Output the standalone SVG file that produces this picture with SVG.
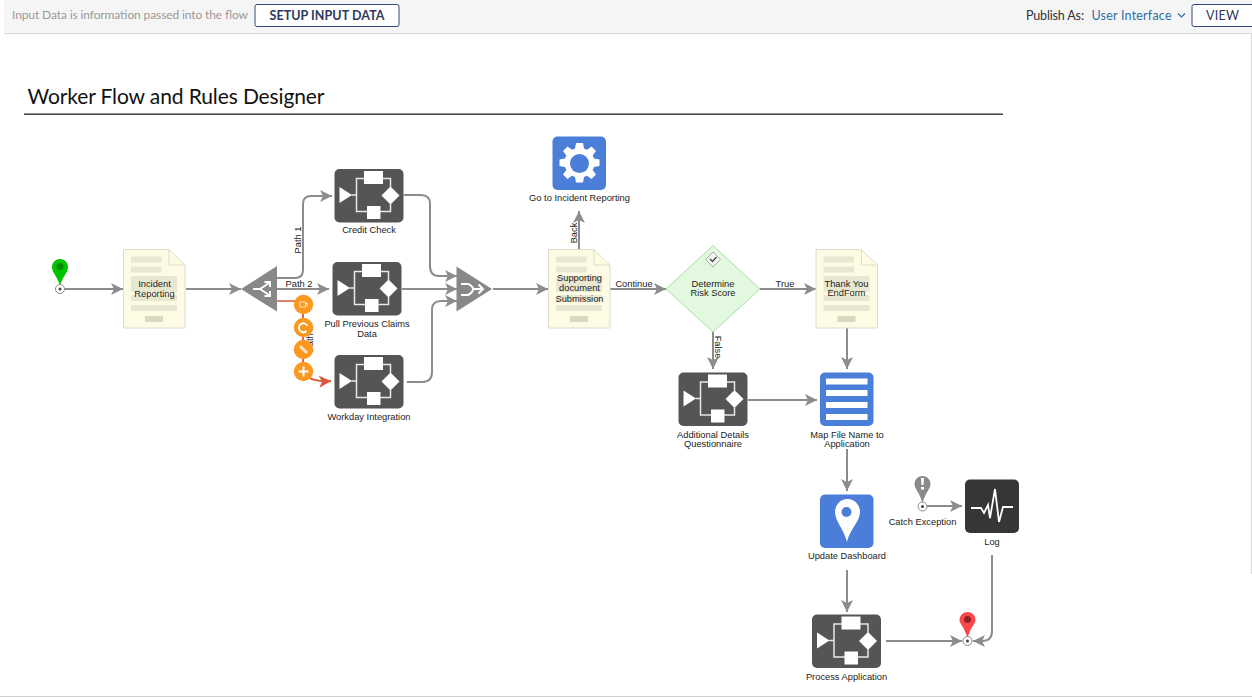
<svg xmlns="http://www.w3.org/2000/svg" width="1252" height="697" viewBox="0 0 1252 697">
<style>
.l{font-family:"Liberation Sans",Arial,sans-serif;font-size:9.300px;fill:#1c1c1c;text-anchor:middle}
.h{font-family:"Lato","Open Sans",sans-serif}
.c{fill:none;stroke:#8c8c8c;stroke-width:2;marker-end:url(#a)}
.w{fill:#fff}
.wl{fill:none;stroke:#e8e8e8;stroke-width:1.500}
.dl{fill:#e8e7d2}
.or{fill:#fb981f}
</style>
<defs>
<marker id="a" markerUnits="userSpaceOnUse" markerWidth="16" markerHeight="16" refX="13" refY="8" orient="auto"><path d="M1 2L13 8L1 14L4 8Z" fill="#8c8c8c"/></marker>
<marker id="r" markerUnits="userSpaceOnUse" markerWidth="16" markerHeight="16" refX="13" refY="8" orient="auto"><path d="M1 2L13 8L1 14L4 8Z" fill="#d9583b"/></marker>
<symbol id="step" width="70" height="54" overflow="visible">
<rect x="0" y="0" width="69" height="53.500" rx="5" fill="#555"/>
<path d="M5 18L17.500 26L5 34Z" class="w"/>
<path d="M17 26H22M22 26V9.500H56V18M22 26V42.500H56V35" class="wl"/>
<rect x="29.500" y="2" width="19" height="13" class="w"/>
<rect x="32.500" y="37" width="13.500" height="13" class="w"/>
<path d="M47 26.500L56 17.500L65 26.500L56 35.500Z" class="w"/>
</symbol>
<symbol id="doc" width="63" height="80" overflow="visible">
<path d="M0.500 0.500H46L62 16V79H0.500Z" fill="#fdfbe3" stroke="#dcdcd0"/>
<path d="M46 0.500V16H62" fill="none" stroke="#dcdcd0"/>
<rect x="8" y="7.500" width="30.500" height="6" class="dl"/>
<rect x="8" y="17.500" width="30.500" height="6" class="dl"/>
<rect x="8" y="27" width="46" height="16" class="dl"/>
<rect x="8" y="46" width="46" height="6" class="dl"/>
<rect x="8" y="56" width="46" height="6" class="dl"/>
<rect x="22" y="67" width="18" height="6" fill="#d9d8c0"/>
</symbol>
<symbol id="blue" width="54" height="54" overflow="visible"><rect x="0" y="0" width="53.500" height="53.500" rx="5" fill="#4a7ed8"/></symbol>
</defs>

<g id="frame">
<rect x="0" y="0" width="1252" height="697" fill="#fff"/>
<rect x="4" y="0" width="1248" height="33" fill="#f5f5f5"/>
<rect x="4" y="33" width="1248" height="1" fill="#d8d8d8"/>
<rect x="0" y="696" width="1252" height="1" fill="#cfcfcf"/>
<rect x="1251" y="34" width="1" height="540" fill="#d8d8d8"/>
</g>

<g id="toolbar">
<text x="12" y="19" class="h" font-size="12" fill="#9a9a9a" textLength="236">Input Data is information passed into the flow</text>
<rect x="255" y="4.500" width="144" height="22" rx="2" fill="#fff" stroke="#33497a"/>
<text x="327" y="20" class="h" font-size="12.500" font-weight="700" fill="#2d3a5c" text-anchor="middle" textLength="115">SETUP INPUT DATA</text>
<text x="1026" y="19.500" class="h" font-size="12.500" fill="#333" textLength="58">Publish As:</text>
<text x="1091.500" y="19.500" class="h" font-size="12.500" fill="#2f6ea5" textLength="80">User Interface</text>
<path d="M1178 13.500L1181.500 17L1185 13.500" fill="none" stroke="#2f6ea5" stroke-width="1.200"/>
<path d="M1252 4.500H1194a2 2 0 0 0-2 2V24.500a2 2 0 0 0 2 2H1252" fill="#fff" stroke="#33497a"/>
<text x="1222.500" y="20" class="h" font-size="12.500" fill="#2d3a5c" text-anchor="middle" textLength="33">VIEW</text>
</g>

<g id="title">
<text x="27.500" y="104" class="h" font-size="21" fill="#111" textLength="297">Worker Flow and Rules Designer</text>
<rect x="24" y="113.500" width="979" height="1.300" fill="#222"/>
</g>

<g id="connectors">
<path class="c" d="M65 289H123"/>
<path class="c" d="M186 289H241"/>
<path class="c" d="M275 278H295Q303 278 303 270V204Q303 196 311 196H332"/>
<path class="c" d="M275 289H329"/>
<path class="c" d="M404 195H421Q430 195 430 204V266Q430 276 439 276H457"/>
<path class="c" d="M402 289H457"/>
<path class="c" d="M407 382H422Q432 382 432 372V310Q432 301 441 301H457"/>
<path class="c" d="M493 289H548"/>
<path class="c" d="M579 249V211"/>
<path class="c" d="M610 289H666"/>
<path class="c" d="M760 289H816"/>
<path class="c" d="M713 332V369"/>
<path class="c" d="M847 328V369"/>
<path class="c" d="M748 400H817"/>
<path class="c" d="M847 449V491"/>
<path class="c" d="M847 570V612"/>
<path class="c" d="M927 506H962"/>
<path class="c" d="M886 641H962"/>
<path class="c" d="M992 555V631Q992 641 982 641H973"/>
<path d="M275 301H303V370" fill="none" stroke="#d9583b" stroke-width="1.500"/>
<path d="M308 377Q315 382 331 381" fill="none" stroke="#d9583b" stroke-width="2" marker-end="url(#r)"/>
<g class="l">
<text x="0" y="0" transform="translate(301 240) rotate(-90)">Path 1</text>
<text x="299" y="287">Path 2</text>
<text x="0" y="0" transform="translate(313 339) rotate(-90)">Path 3</text>
<text x="0" y="0" transform="translate(577 233) rotate(-90)">Back</text>
<text x="634" y="287">Continue</text>
<text x="785" y="287">True</text>
<text x="0" y="0" transform="translate(715 347) rotate(90)">False</text>
</g>
</g>

<g id="start"><path d="M60 286C57 275 52 273 52 267a8 8 0 0 1 16 0C68 273 63 275 60 286Z" fill="#00c300"/><circle cx="60" cy="266.500" r="3.500" fill="#008a00"/><circle cx="60" cy="289" r="4.500" fill="#fff" stroke="#888"/><circle cx="60" cy="289" r="1.500" fill="#444"/></g>

<g id="incident-reporting"><use href="#doc" x="123" y="249"/><text class="l" x="154.500" y="287">Incident</text><text class="l" x="154.500" y="297">Reporting</text></g>

<g id="split"><path d="M241 289L277 266V311.500Z" fill="#888"/><path d="M253 289H260L269 283M260 289L269 295M264.500 282H270V287M264.500 296H270V291" stroke="#fff" stroke-width="2" fill="none"/></g>

<g id="credit-check"><use href="#step" x="334.500" y="169"/><text class="l" x="369" y="233">Credit Check</text></g>
<g id="pull-previous"><use href="#step" x="332.500" y="262"/><text class="l" x="367" y="327">Pull Previous Claims</text><text class="l" x="367" y="337">Data</text></g>
<g id="workday-integration"><use href="#step" x="334.500" y="355"/><text class="l" x="369" y="420">Workday Integration</text></g>

<g id="merge"><path d="M456.500 266.500L492 289L456.500 311.500Z" fill="#888"/><path d="M461 284H467Q471 284 473.500 289H483M461 295H467Q471 295 473.500 289M478.500 284.500L483 289L478.500 293.500" stroke="#fff" stroke-width="2" fill="none"/></g>

<g id="supporting-doc"><use href="#doc" x="548" y="249"/><text class="l" x="579.500" y="281">Supporting</text><text class="l" x="579.500" y="291">document</text><text class="l" x="579.500" y="301.500">Submission</text></g>

<g id="go-to-incident"><use href="#blue" x="552.500" y="136.500"/>
<path d="M576 143h7l1 5.500 3 1.300 4.500-3.300 4.500 4.500-3.300 4.500 1.300 3 5.500 1v6.500l-5.500 1-1.300 3 3.300 4.500-4.500 4.500-4.500-3.300-3 1.300-1 5.500h-7l-1-5.500-3-1.300-4.500 3.300-4.500-4.500 3.300-4.500-1.300-3-5.500-1v-6.500l5.500-1 1.300-3-3.300-4.500 4.500-4.500 4.500 3.300 3-1.300Z" fill="#fff"/>
<circle cx="579.500" cy="163.500" r="9.500" fill="#4a7ed8"/>
<text class="l" x="579.500" y="201">Go to Incident Reporting</text></g>

<g id="determine-risk"><path d="M713 245.500L760 289L713 332L666 289Z" fill="#e3f9df" stroke="#a9e0a3"/><path d="M713 252L720.500 259.500L713 267L705.500 259.500Z" fill="#f1f5f0" stroke="#aaa"/><path d="M710 259L712.500 261.500L716.500 257" fill="none" stroke="#444" stroke-width="1.300"/><text class="l" x="713" y="287">Determine</text><text class="l" x="713" y="296">Risk Score</text></g>

<g id="thank-you"><use href="#doc" x="815.500" y="249"/><text class="l" x="846.500" y="287">Thank You</text><text class="l" x="846.500" y="296">EndForm</text></g>

<g id="additional-details"><use href="#step" x="678.500" y="372.500"/><text class="l" x="713" y="438">Additional Details</text><text class="l" x="713" y="447">Questionnaire</text></g>

<g id="map-file"><use href="#blue" x="820" y="372.500"/><rect x="826" y="378.500" width="41.500" height="6" class="w"/><rect x="826" y="390" width="41.500" height="6" class="w"/><rect x="826" y="402" width="41.500" height="6" class="w"/><rect x="826" y="414" width="41.500" height="6" class="w"/><text class="l" x="847" y="438">Map File Name to</text><text class="l" x="847" y="447">Application</text></g>

<g id="update-dashboard"><use href="#blue" x="820" y="494.500"/><path d="M847 542C843 527 835 522 835 511.500a12.500 12.500 0 0 1 25 0C860 522 851 527 847 542Z" fill="#fff"/><circle cx="846.500" cy="512" r="5" fill="#4a7ed8"/><text class="l" x="847" y="559">Update Dashboard</text></g>

<g id="catch-exception"><path d="M922.500 503C919 491 914.500 489 914.500 484a8 8 0 0 1 16 0C930.500 489 926 491 922.500 503Z" fill="#8a8a8a"/><path d="M921 478h3l-.5 7h-2ZM921 487h3v2.500h-3Z" fill="#fff"/><circle cx="922.500" cy="506.500" r="4.500" fill="#fff" stroke="#888"/><circle cx="922.500" cy="506.500" r="1.500" fill="#444"/><text class="l" x="922.500" y="525">Catch Exception</text></g>

<g id="log"><rect x="965" y="479.500" width="54" height="53.500" rx="5" fill="#363636"/><path d="M971 508H981L984 513L988 505L990 518L995 489L999 522L1003 507H1013" fill="none" stroke="#fff" stroke-width="1.800"/><text class="l" x="992" y="545">Log</text></g>

<g id="process-application"><use href="#step" x="812" y="614.500"/><text class="l" x="846.500" y="680">Process Application</text></g>

<g id="end"><path d="M967.500 638C964 626 959.500 624 959.500 620a8 8 0 0 1 16 0C975.500 624 971 626 967.500 638Z" fill="#f9474a"/><circle cx="967.500" cy="619.500" r="3.500" fill="#8f2023"/><circle cx="967.500" cy="641" r="4.500" fill="#fff" stroke="#888"/><circle cx="967.500" cy="641" r="1.500" fill="#444"/></g>

<g id="edit-toolbar">
<path d="M303 304V371" stroke="#d9583b" stroke-width="1.200"/>
<circle cx="303.500" cy="304.500" r="9.700" class="or"/>
<path d="M300 302h5.500v5h-5.500ZM305.500 303.500h2v2h-2Z" fill="none" stroke="#fde3bd" stroke-width="1.100"/>
<circle cx="303.500" cy="327.500" r="9.700" class="or"/>
<path d="M306.500 331A4.500 4.500 0 1 1 307.500 326" fill="none" stroke="#fff" stroke-width="1.800"/>
<circle cx="303.500" cy="349.500" r="9.700" class="or"/>
<path d="M300 346L307 353" stroke="#fde3bd" stroke-width="3"/>
<circle cx="303.500" cy="371.500" r="9.700" class="or"/>
<path d="M303.500 366.500v10M298.500 371.500h10" stroke="#fff" stroke-width="2"/>
</g>
</svg>
